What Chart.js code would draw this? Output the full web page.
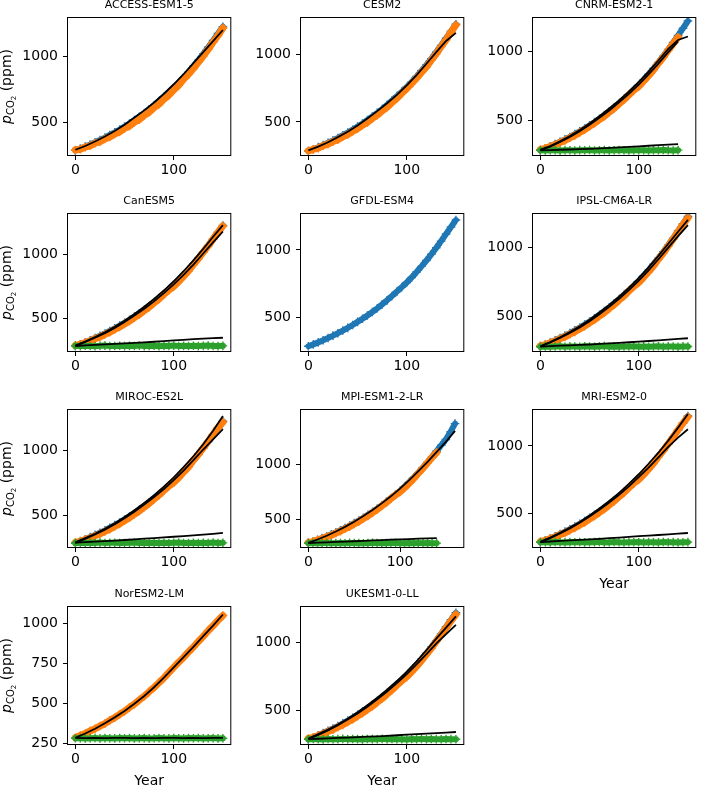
<!DOCTYPE html>
<html>
<head>
<meta charset="utf-8">
<script src="https://cdn.jsdelivr.net/npm/chart.js@4.4.0/dist/chart.umd.min.js"></script>
<style>
  html, body { margin: 0; padding: 0; background: #fff; overflow: hidden; }
  #fig { position: relative; width: 701px; height: 785px; }
  #fig canvas { position: absolute; }
</style>
</head>
<body>
<div id="fig"></div>
<script>
const YEARS5 = [0,5,10,15,20,25,30,35,40,45,50,55,60,65,70,75,80,85,90,95,100,105,110,115,120,125,130,135,140,145,150,155,160];
const YEARS10 = [0,10,20,30,40,50,60,70,80,90,100,110,120,130,140,150,160];

const MODELS = ['ACCESS-ESM1-5','CESM2','CNRM-ESM2-1','CanESM5','GFDL-ESM4','IPSL-CM6A-LR',
                'MIROC-ES2L','MPI-ESM1-2-LR','MRI-ESM2-0','NorESM2-LM','UKESM1-0-LL'];

// 1pctCO2 concentration (blue)
const BLUE = [285,299,314,330,347,364,382,402,422,443,466,489,514,540,567,596,626,658,691,724,758,796,836,878,922,968,1016,1066,1118,1170,1222];
const MPI_BLUE = [285,299,314,330,347,364,382,402,422,443,466,489,514,540,567,596,626,658,691,724,758,796,836,878,922,968,1016,1066,1118,1170,1222,1290,1365];

// emission-driven runs (orange)
const ACCESS_ORANGE = [288,294,310,320,339,350,372,386,409,425,451,469,498,518,550,574,609,635,673,703,744,778,824,862,905,952,1000,1050,1104,1155,1212];
const CESM2_ORANGE = [287,297,307,324,336,355,369,391,407,431,450,476,497,526,550,582,609,644,674,712,746,784,824,866,906,957,1003,1057,1106,1165,1216];
const CNRM_ORANGE = [290,299,313,325,342,356,376,393,415,435,459,481,508,532,562,589,622,652,687,720,748,786,826,868,916,960,1010,1058,1105];
const CANESM_ORANGE = [289,297,312,324,341,355,375,392,414,433,457,479,506,530,560,587,620,650,686,719,748,786,826,868,918,963,1014,1063,1117,1168,1218];
const IPSL_ORANGE = [290,298,312,324,341,355,374,391,413,432,456,478,505,529,559,586,619,649,685,718,746,784,824,866,914,959,1010,1060,1112,1165,1212];
const MIROC_ORANGE = [289,297,311,323,340,354,374,391,413,432,457,479,506,531,561,589,622,653,689,723,750,787,829,869,921,966,1017,1066,1120,1172,1215];
const MPI_ORANGE = [290,299,313,325,342,356,376,393,415,434,458,480,507,531,561,588,621,651,687,720,748,786,827,869,916,961,1012,1060,1105];
const MRI_ORANGE = [290,298,312,324,341,355,375,392,414,433,458,480,507,532,562,590,623,654,690,724,750,788,828,870,921,966,1017,1066,1119,1170,1216];
const NOR_ORANGE = [285,299,311,328,341,359,374,394,411,432,451,475,496,522,545,574,600,631,660,694,726,759,789,823,854,889,921,956,987,1021,1052];
const UKESM_ORANGE = [290,298,312,324,341,355,375,391,413,432,456,478,505,529,559,586,619,649,685,719,747,785,825,867,914,959,1010,1058,1111,1162,1210];

// control runs (green)
const CNRM_GREEN = [285,284,286,285,283,286,285,284,286,285,287,284,285,286,284,285,287,285,284,286,285,285,284,286,285,287,285,284,286];
const CANESM_GREEN = [286,284,287,285,283,286,288,284,285,287,284,286,285,288,284,285,287,283,286,285,288,284,286,285,287,284,286,288,285,284,286];
const IPSL_GREEN = [284,286,283,285,287,284,286,285,283,287,285,284,286,288,284,285,283,286,285,287,284,286,283,285,287,284,286,285,283,286,285];
const MIROC_GREEN = [285,287,284,286,285,288,284,286,287,285,284,286,288,285,287,284,286,285,287,284,286,288,285,284,287,285,286,284,288,285,286];
const MPI_GREEN = [285,284,286,285,287,284,285,286,284,287,285,286,284,285,287,286,284,285,286,287,284,285,286,284,287,285,286,284,285];
const MRI_GREEN = [285,286,284,287,285,284,286,285,287,284,285,286,288,284,285,287,285,284,286,285,287,284,286,285,284,287,285,286,284,285,286];
const NOR_GREEN = [282,283,281,282,284,281,283,282,281,283,282,284,281,282,283,281,282,284,282,281,283,282,281,283,282,284,281,282,283,281,282];
const UKESM_GREEN = [284,286,285,283,286,284,285,287,284,286,285,283,286,285,284,287,285,286,284,285,283,286,285,287,284,286,285,284,286,285,284];

// emulated curves (black), every 10 years
const ACCESS_BLACK = [290,318,352,390,432,480,534,588,648,714,786,862,946,1030,1112,1197];
const CESM2_BLACK = [290,318,350,388,428,474,526,580,638,700,770,846,930,1016,1098,1158];
const CNRM_BLACK1 = [288,316,350,388,432,480,532,588,646,710,780,856,936,1020,1085,1110];
const CNRM_BLACK2 = [286,312,345,382,424,470,520,574,632,694,762,836,914,996,1075];
const CANESM_BLACK1 = [288,320,354,392,434,482,534,590,650,716,788,866,950,1040,1134,1225];
const CANESM_BLACK2 = [286,316,349,385,426,471,521,574,632,696,764,838,918,1004,1090,1175];
const IPSL_BLACK1 = [287,318,352,390,432,478,530,585,644,708,778,855,938,1026,1112,1198];
const IPSL_BLACK2 = [285,314,347,383,423,468,518,571,629,692,760,834,914,998,1080,1160];
const MIROC_BLACK1 = [290,322,356,394,436,484,536,592,652,718,790,868,952,1044,1148,1262];
const MIROC_BLACK2 = [286,316,350,388,430,476,526,580,638,700,768,842,922,1004,1082,1160];
const MPI_BLACK = [288,318,352,390,432,478,530,585,644,708,778,854,936,1020,1110,1200,1300];
const MRI_BLACK1 = [288,320,356,394,436,484,536,592,652,718,790,868,950,1040,1136,1238];
const MRI_BLACK2 = [285,316,350,388,430,476,526,580,638,700,768,840,916,994,1062,1124];
const NOR_BLACK = [285,312,342,376,413,453,498,547,602,662,727,790,855,922,988,1058];
const UKESM_BLACK1 = [290,322,356,394,436,484,536,592,652,716,786,862,944,1030,1112,1196];
const UKESM_BLACK2 = [286,316,350,388,430,476,526,580,638,700,768,840,916,994,1064,1132];

const CNRM_LOW = [285,287,289,291,294,296,299,302,306,310,314,318,322,326,330];
const CANESM_LOW = [285,289,293,297,301,305,309,313,318,323,328,333,338,342,346,349];
const IPSL_LOW = [285,288,291,294,297,300,304,308,312,316,320,325,330,335,340,345];
const MIROC_LOW = [287,291,295,299,303,308,313,318,323,328,333,338,343,349,355,362];
const MPI_LOW = [286,289,292,296,299,302,306,309,313,316,319,322,325,328,331];
const MRI_LOW = [287,291,295,299,303,307,311,316,320,325,330,334,339,344,349,354];
const NOR_LOW = [284,283,284,283,284,284,283,284,283,284,284,283,284,283,284,284];
const UKESM_LOW = [285,288,291,294,297,300,303,306,310,314,318,322,326,330,334,338];

// axes
const X_TICKS = [0, 100];
const Y_TICKS = [500, 1000];
const Y_TICKS_NOR = [250, 500, 750, 1000];
const X_MIN = [-7.5,-7.5,-7.5,-7.5,-7.5,-7.5,-7.5,-8,-7.5,-7.5,-7.5];
const X_MAX = [157.5,157.5,157.5,157.5,157.5,157.5,157.5,169,157.5,157.5,157.5];
const Y_MIN = [250,256,251,246,250,253,254,250,250,246,249];
const Y_MAX = [1288,1268,1244,1311,1267,1240,1308,1488,1267,1105,1265];

// which series each panel has
const PANEL_SERIES = [
  {blue: BLUE, orange: ACCESS_ORANGE, black: [ACCESS_BLACK]},
  {blue: BLUE, orange: CESM2_ORANGE, black: [CESM2_BLACK]},
  {blue: BLUE, orange: CNRM_ORANGE, green: CNRM_GREEN, black: [CNRM_BLACK1, CNRM_BLACK2, CNRM_LOW]},
  {blue: BLUE, orange: CANESM_ORANGE, green: CANESM_GREEN, black: [CANESM_BLACK1, CANESM_BLACK2, CANESM_LOW]},
  {blue: BLUE},
  {blue: BLUE, orange: IPSL_ORANGE, green: IPSL_GREEN, black: [IPSL_BLACK1, IPSL_BLACK2, IPSL_LOW]},
  {blue: BLUE, orange: MIROC_ORANGE, green: MIROC_GREEN, black: [MIROC_BLACK1, MIROC_BLACK2, MIROC_LOW]},
  {blue: MPI_BLUE, orange: MPI_ORANGE, green: MPI_GREEN, black: [MPI_BLACK, MPI_LOW]},
  {blue: BLUE, orange: MRI_ORANGE, green: MRI_GREEN, black: [MRI_BLACK1, MRI_BLACK2, MRI_LOW]},
  {orange: NOR_ORANGE, green: NOR_GREEN, black: [NOR_BLACK, NOR_LOW]},
  {blue: BLUE, orange: UKESM_ORANGE, green: UKESM_GREEN, black: [UKESM_BLACK1, UKESM_BLACK2, UKESM_LOW]},
];

// ---- layout ----
const FONT = 'DejaVu Sans';
const COL_X = [68, 301, 533];
const ROW_Y = [18, 214, 410, 607];
const BOX_W = 165, BOX_H = 137;
const LEFT_SPACE = 68, TOP_SPACE = 18, BOTTOM_SPACE = 46, RIGHT_SPACE = 3;
const XLABEL_PANELS = [8, 9, 10];

const C_BLUE = '#1f77b4', C_ORANGE = '#ff7f0e', C_GREEN = '#2ca02c';

function pts(xs, ys) {
  return ys.map((y, i) => ({x: xs[i], y: y}));
}

// dense '+' markers: a band under the crosses stands in for the yearly markers
function markerSet(ys, color, order, band) {
  return {
    data: pts(YEARS5, ys), showLine: true, borderWidth: band, borderColor: color,
    borderCapStyle: 'round', borderJoinStyle: 'round', tension: 0,
    pointStyle: 'cross', pointRadius: 4.3, pointBorderWidth: 1.4,
    pointBorderColor: color, pointBackgroundColor: color, pointHoverRadius: 4.3, order: order
  };
}

function lineSet(ys) {
  return {
    data: pts(YEARS10, ys), showLine: true, pointRadius: 0, borderColor: '#000',
    borderWidth: 1.8, tension: 0, order: 0
  };
}

const framePlugin = {
  id: 'frame',
  afterDatasetsDraw(chart) {
    const a = chart.chartArea, ctx = chart.ctx;
    ctx.save();
    ctx.strokeStyle = '#000';
    ctx.lineWidth = 1;
    ctx.strokeRect(a.left - 0.5, a.top - 0.5, a.right - a.left + 1, a.bottom - a.top + 1);
    ctx.restore();
  }
};

const yLabelPlugin = {
  id: 'ylab',
  afterDraw(chart, args, opts) {
    if (!opts.show) return;
    const ctx = chart.ctx, a = chart.chartArea;
    const parts = [
      {t: 'p', f: 'italic 14px "' + FONT + '"', dy: 0},
      {t: 'CO', f: '10px "' + FONT + '"', dy: 3},
      {t: '2', f: '7px "' + FONT + '"', dy: 5},
      {t: ' (ppm)', f: '14px "' + FONT + '"', dy: 0}
    ];
    let total = 0;
    ctx.save();
    parts.forEach(p => { ctx.font = p.f; p.w = ctx.measureText(p.t).width; total += p.w; });
    ctx.translate(11, (a.top + a.bottom) / 2);
    ctx.rotate(-Math.PI / 2);
    ctx.fillStyle = '#000';
    ctx.textBaseline = 'alphabetic';
    let x = -total / 2;
    parts.forEach(p => { ctx.font = p.f; ctx.fillText(p.t, x, p.dy); x += p.w; });
    ctx.restore();
  }
};

const fig = document.getElementById('fig');

MODELS.forEach((name, i) => {
  const col = i % 3, row = Math.floor(i / 3);
  const W = LEFT_SPACE + BOX_W + RIGHT_SPACE, H = TOP_SPACE + BOX_H + BOTTOM_SPACE;
  const cv = document.createElement('canvas');
  cv.width = W; cv.height = H;
  cv.style.left = (COL_X[col] - LEFT_SPACE) + 'px';
  cv.style.top = (ROW_Y[row] - TOP_SPACE) + 'px';
  cv.style.width = W + 'px'; cv.style.height = H + 'px';
  fig.appendChild(cv);

  const s = PANEL_SERIES[i];
  const datasets = [];
  (s.black || []).forEach(b => datasets.push(lineSet(b)));
  if (s.green) datasets.push(markerSet(s.green, C_GREEN, 1, 6));
  if (s.orange) datasets.push(markerSet(s.orange, C_ORANGE, 2, 7));
  if (s.blue) datasets.push(markerSet(s.blue, C_BLUE, 3, 6));

  const yTicks = (i === 9) ? Y_TICKS_NOR : Y_TICKS;
  const tickGrid = {display: true, drawOnChartArea: false, drawTicks: true, tickLength: 5, color: '#000', lineWidth: 1};

  new Chart(cv, {
    type: 'scatter',
    data: {datasets: datasets},
    options: {
      responsive: false, animation: false, events: [], devicePixelRatio: 1,
      layout: {padding: {left: 0, top: 0, right: RIGHT_SPACE, bottom: 0}},
      plugins: {
        legend: {display: false},
        tooltip: {enabled: false},
        title: {display: true, text: name, color: '#000', fullSize: false,
                font: {family: FONT, size: 11, weight: 'normal', lineHeight: 1},
                padding: {top: 0, bottom: 7}},
        ylab: {show: col === 0}
      },
      scales: {
        x: {
          type: 'linear', min: X_MIN[i], max: X_MAX[i],
          afterBuildTicks: sc => { sc.ticks = X_TICKS.map(v => ({value: v})); },
          afterFit: sc => { sc.height = BOTTOM_SPACE; },
          grid: tickGrid, border: {display: false},
          ticks: {color: '#000', font: {family: FONT, size: 14}, padding: 2, maxRotation: 0,
                  autoSkip: false, callback: v => String(v)},
          title: {display: XLABEL_PANELS.includes(i), text: 'Year', color: '#000',
                  font: {family: FONT, size: 14}, padding: {top: 0, bottom: 0}}
        },
        y: {
          type: 'linear', min: Y_MIN[i], max: Y_MAX[i],
          afterBuildTicks: sc => { sc.ticks = yTicks.map(v => ({value: v})); },
          afterFit: sc => { sc.width = LEFT_SPACE; },
          grid: tickGrid, border: {display: false},
          ticks: {color: '#000', font: {family: FONT, size: 14}, padding: 5, autoSkip: false,
                  callback: v => String(v)}
        }
      }
    },
    plugins: [framePlugin, yLabelPlugin]
  });
});
</script>
</body>
</html>
